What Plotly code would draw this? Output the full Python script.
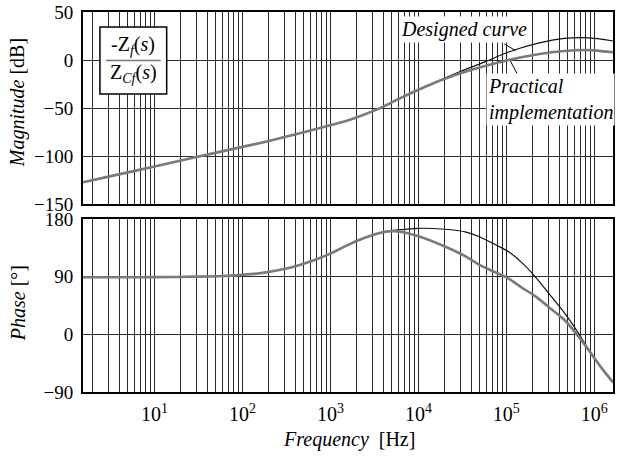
import math
import plotly.graph_objects as go

# ---------------- data ----------------
FREQ_MAG_DESIGNED = [1.54, 3, 10, 30, 100, 200, 300, 500, 1000, 1500, 2000, 3000, 4000, 6000,
                     1e4, 1.4e4, 2e4, 2.9e4, 5.7e4, 1.06e5, 2.3e5, 4.6e5, 7.7e5, 1e6, 1.63e6]
MAG_DESIGNED = [-127.3, -121.5, -111, -101, -90.5, -84.3, -80.3, -75.2, -68, -63.5, -59.7, -53.5, -48.5, -40.5,
                -31, -25, -18.8, -12.5, -2, 8.3, 17.5, 22.5, 23.3, 22.5, 19.8]

FREQ_MAG_PRACTICAL = [1.54, 3, 10, 30, 100, 200, 300, 500, 1000, 1500, 2000, 3000, 4000, 6000,
                      1e4, 1.4e4, 2e4, 2.9e4, 5.7e4, 1.06e5, 2.3e5, 4.6e5, 7.7e5, 1e6, 1.63e6]
MAG_PRACTICAL = [-127.3, -121.5, -111, -101, -90.5, -84.3, -80.3, -75.2, -68, -63.5, -59.7, -53.5, -48.5, -40.5,
                 -31, -25.3, -19.6, -14.3, -6.3, 0, 6, 9.4, 10.4, 10, 8]

FREQ_PH_DESIGNED = [1.54, 5, 10, 30, 60, 100, 150, 200, 300, 440, 660, 1000, 1500, 2500, 4000, 6000,
                    1e4, 2e4, 3.4e4, 4.8e4, 8e4, 1.06e5, 1.5e5, 2.1e5, 3.2e5, 4.6e5, 6.5e5,
                    9.2e5, 1.2e6, 1.63e6]
PH_DESIGNED = [89, 89, 89.3, 90, 91, 93, 95, 97.5, 102, 108, 116, 126, 138, 151, 159.5, 163,
               165.5, 164, 160, 153, 138, 129, 112, 91, 60, 33, 3,
               -30, -52, -75]

FREQ_PH_PRACTICAL = [1.54, 5, 10, 30, 60, 100, 150, 200, 300, 440, 660, 1000, 1500, 2500, 4000, 5000,
                     6000, 1e4, 2e4, 3.4e4, 5e4, 8e4, 1e5, 1.5e5, 2.2e5, 3.2e5, 4.6e5, 6.5e5,
                     9.2e5, 1.2e6, 1.63e6]
PH_PRACTICAL = [89, 89, 89.3, 90, 91, 93, 95, 97.5, 102, 108, 116, 126, 138, 151, 159.5, 161,
                160.5, 153, 137, 122, 108, 95, 89, 73, 58, 40, 22, -2,
                -30, -52, -75]

X_DECADES = [10, 100, 1000, 10000, 100000, 1000000]
X_TICK_TEXT = ["10<sup>1</sup>", "10<sup>2</sup>", "10<sup>3</sup>",
               "10<sup>4</sup>", "10<sup>5</sup>", "10<sup>6</sup>"]
MAG_TICKS = [-150, -100, -50, 0, 50]
PH_TICKS = [-90, 0, 90, 180]

X_MIN, X_MAX = 1.54, 1.63e6

# ---------------- helpers ----------------
FONT = "Liberation Serif, Times New Roman, serif"
W, H = 617, 457
ML, MR, MT, MB = 83, 2, 12, 65
PW = W - ML - MR
PH = H - MT - MB


def px(x):
    return (x - ML) / PW


def py(y):
    return (H - MB - y) / PH


# grid positions: every m*10^n inside the range
grid_vals, grid_text = [], []
for n in range(0, 7):
    for m in range(1, 10):
        v = m * 10 ** n
        if X_MIN <= v <= X_MAX:
            grid_vals.append(v)
            grid_text.append(X_TICK_TEXT[X_DECADES.index(v)] if v in X_DECADES else "")

fig = go.Figure()

BLACK = "#111111"
GRAY = "#7a7a7a"
LINE_D = dict(color=BLACK, width=1.2, shape="spline", smoothing=0.8)
LINE_P = dict(color=GRAY, width=2.6, shape="spline", smoothing=0.8)

fig.add_trace(go.Scatter(x=FREQ_MAG_DESIGNED, y=MAG_DESIGNED, mode="lines", line=LINE_D,
                         xaxis="x", yaxis="y", showlegend=False))
fig.add_trace(go.Scatter(x=FREQ_MAG_PRACTICAL, y=MAG_PRACTICAL, mode="lines", line=LINE_P,
                         xaxis="x", yaxis="y", showlegend=False))
fig.add_trace(go.Scatter(x=FREQ_PH_DESIGNED, y=PH_DESIGNED, mode="lines", line=LINE_D,
                         xaxis="x2", yaxis="y2", showlegend=False))
fig.add_trace(go.Scatter(x=FREQ_PH_PRACTICAL, y=PH_PRACTICAL, mode="lines", line=LINE_P,
                         xaxis="x2", yaxis="y2", showlegend=False))

xtickfont = dict(family=FONT, size=20, color="black")
ytickfont = dict(family=FONT, size=19, color="black")
xcommon = dict(type="log", range=[math.log10(X_MIN), math.log10(X_MAX)],
               tickmode="array", tickvals=grid_vals, ticktext=grid_text,
               showgrid=True, gridcolor="#2a2a2a", gridwidth=1,
               showline=True, linecolor="black", linewidth=2, mirror=True,
               ticks="outside", ticklen=3, tickcolor="rgba(0,0,0,0)",
               tickfont=xtickfont, zeroline=False)
ycommon = dict(showgrid=True, gridcolor="#2a2a2a", gridwidth=1,
               showline=True, linecolor="black", linewidth=2, mirror=True,
               ticks="outside", ticklen=4, tickcolor="rgba(0,0,0,0)",
               tickfont=ytickfont, zeroline=False, tickmode="array")

TOP_DOMAIN = [py(204), 1]
BOT_DOMAIN = [0, py(219)]

fig.update_layout(
    width=W, height=H,
    margin=dict(l=ML, r=MR, t=MT, b=MB),
    paper_bgcolor="white", plot_bgcolor="white",
    font=dict(family=FONT, color="black"),
    xaxis=dict(xcommon, anchor="y", showticklabels=False, domain=[0, 1]),
    yaxis=dict(ycommon, domain=TOP_DOMAIN, range=[-150, 50], tickvals=MAG_TICKS,
               anchor="x"),
    xaxis2=dict(xcommon, anchor="y2", matches="x", domain=[0, 1]),
    yaxis2=dict(ycommon, domain=BOT_DOMAIN, range=[-90, 180], tickvals=PH_TICKS,
                anchor="x2"),
)

ann_font = dict(family=FONT, size=20, color="black")

annotations = [
    # axis titles
    dict(text="<i>Magnitude</i> [dB]", x=px(18), y=py(103), textangle=-90),
    dict(text="<i>Phase</i> [°]", x=px(18), y=py(303), textangle=-90),
    dict(text="<i>Frequency</i>  [Hz]", x=px(350), y=py(439)),
    # curve labels
    dict(text="<i>Designed curve</i>", x=px(465), y=py(29), bgcolor="white", borderpad=1),
    dict(text="<i>Practical</i><br><i>implementation</i>", x=px(488), y=py(99),
         xanchor="left", align="left", bgcolor="white", borderpad=1),
    # transfer-function fraction
    dict(text="-Z<sub><i>f</i></sub>(<i>s</i>)", x=px(133.5), y=py(46)),
    dict(text="Z<sub><i>Cf</i></sub>(<i>s</i>)", x=px(133.5), y=py(74)),
]
for a in annotations:
    a.setdefault("xanchor", "center")
    a.setdefault("yanchor", "middle")
    a.update(xref="paper", yref="paper", showarrow=False, font=ann_font)
fig.update_layout(annotations=annotations)

shapes = [
    dict(type="rect", x0=px(100), x1=px(167), y0=py(94), y1=py(27),
         line=dict(color="black", width=1.5), fillcolor="white", layer="above"),
    dict(type="line", x0=px(106), x1=px(161), y0=py(60.5), y1=py(60.5),
         line=dict(color="#777777", width=1.5), layer="above"),
    dict(type="line", x0=px(506), x1=px(517), y0=py(44), y1=py(50.5),
         line=dict(color="black", width=1), layer="above"),
    dict(type="line", x0=px(512), x1=px(519), y0=py(61), y1=py(74),
         line=dict(color="black", width=1), layer="above"),
]
for s in shapes:
    s.update(xref="paper", yref="paper")
fig.update_layout(shapes=shapes)

fig.write_html("out.html")
